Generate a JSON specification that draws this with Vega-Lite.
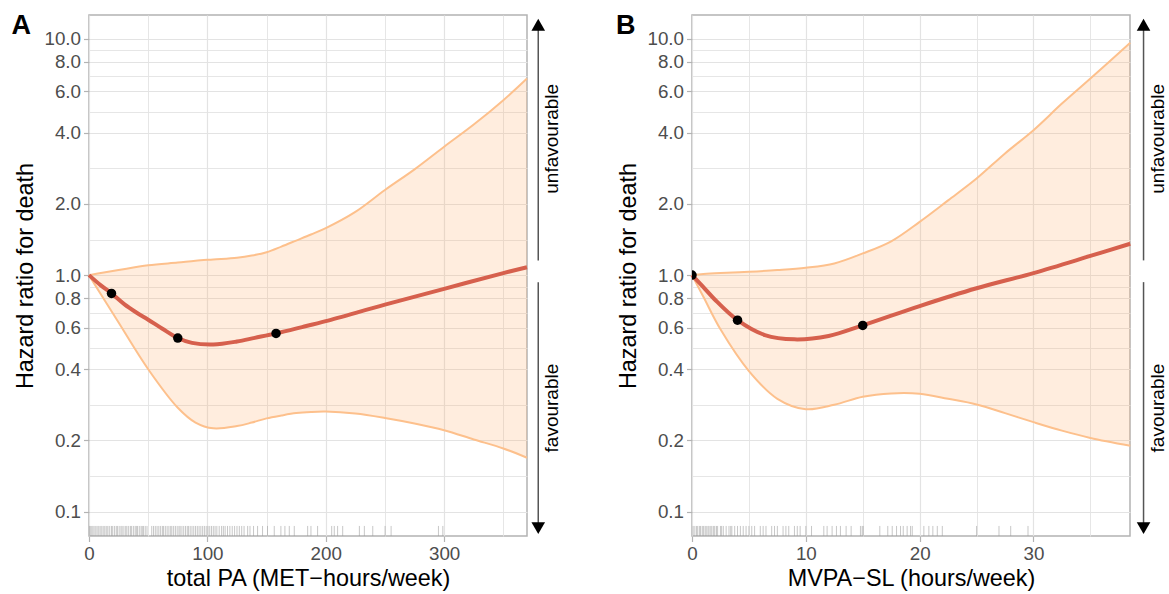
{
  "$schema": "https://vega.github.io/schema/vega-lite/v6.json",
  "background": "white",
  "padding": {"left": 10, "top": 11, "right": 5, "bottom": 5},
  "config": {
    "font": "Liberation Sans",
    "view": {"stroke": "#B3B3B3", "strokeWidth": 1.5},
    "axis": {
      "domain": false,
      "gridColor": "#E3E3E3",
      "tickColor": "#B3B3B3",
      "tickSize": 5.5,
      "tickWidth": 1.2,
      "labelColor": "#4D4D4D",
      "labelFontSize": 18.8,
      "labelFont": "Liberation Sans",
      "titleFont": "Liberation Sans",
      "titleFontSize": 23.4,
      "titleFontWeight": "normal",
      "titleColor": "black",
      "labelOverlap": false,
      "labelFlush": false
    }
  },
  "datasets": {
    "ciA": [
      {"x": 0, "lo": 1.0, "hi": 1.0},
      {"x": 10, "lo": 0.83, "hi": 1.02},
      {"x": 25, "lo": 0.63, "hi": 1.05},
      {"x": 50, "lo": 0.40, "hi": 1.10},
      {"x": 75, "lo": 0.275, "hi": 1.13},
      {"x": 90, "lo": 0.238, "hi": 1.15},
      {"x": 105, "lo": 0.225, "hi": 1.165},
      {"x": 125, "lo": 0.23, "hi": 1.185},
      {"x": 137.5, "lo": 0.238, "hi": 1.21},
      {"x": 150, "lo": 0.248, "hi": 1.25},
      {"x": 162.5, "lo": 0.255, "hi": 1.32},
      {"x": 175, "lo": 0.261, "hi": 1.40},
      {"x": 187.5, "lo": 0.264, "hi": 1.485},
      {"x": 200, "lo": 0.265, "hi": 1.58},
      {"x": 225, "lo": 0.26, "hi": 1.85},
      {"x": 250, "lo": 0.249, "hi": 2.29},
      {"x": 275, "lo": 0.236, "hi": 2.80},
      {"x": 300, "lo": 0.221, "hi": 3.49},
      {"x": 325, "lo": 0.202, "hi": 4.33},
      {"x": 350, "lo": 0.185, "hi": 5.49},
      {"x": 370, "lo": 0.169, "hi": 6.78}
    ],
    "hrA": [
      {"x": 0, "hr": 1.0},
      {"x": 10, "hr": 0.905},
      {"x": 19, "hr": 0.837},
      {"x": 30, "hr": 0.752},
      {"x": 40, "hr": 0.695},
      {"x": 50, "hr": 0.648},
      {"x": 62, "hr": 0.593},
      {"x": 75, "hr": 0.542},
      {"x": 87, "hr": 0.517},
      {"x": 105, "hr": 0.509},
      {"x": 125, "hr": 0.524},
      {"x": 140, "hr": 0.543},
      {"x": 158, "hr": 0.567},
      {"x": 180, "hr": 0.603},
      {"x": 200, "hr": 0.639},
      {"x": 250, "hr": 0.75},
      {"x": 300, "hr": 0.875},
      {"x": 350, "hr": 1.02},
      {"x": 370, "hr": 1.08}
    ],
    "dotsA": [
      {"x": 19, "hr": 0.837},
      {"x": 75, "hr": 0.542},
      {"x": 158, "hr": 0.567}
    ],
    "rugA": [
      {"x": 0.5}, {"x": 1.5}, {"x": 2.5}, {"x": 3.5}, {"x": 5}, {"x": 6}, {"x": 7.5}, {"x": 8.5}, {"x": 10}, {"x": 11},
      {"x": 12.5}, {"x": 13.5}, {"x": 15}, {"x": 16}, {"x": 17.5}, {"x": 19}, {"x": 20}, {"x": 21.5}, {"x": 23}, {"x": 24},
      {"x": 25.5}, {"x": 27}, {"x": 28}, {"x": 29.5}, {"x": 31}, {"x": 32}, {"x": 33.5}, {"x": 35}, {"x": 36}, {"x": 37.5},
      {"x": 39}, {"x": 40}, {"x": 41}, {"x": 42.5}, {"x": 44}, {"x": 45}, {"x": 46}, {"x": 47.5}, {"x": 49}, {"x": 53},
      {"x": 54.5}, {"x": 56}, {"x": 57.5}, {"x": 59}, {"x": 60.5}, {"x": 62}, {"x": 63}, {"x": 64.5}, {"x": 66}, {"x": 67.5},
      {"x": 69}, {"x": 70}, {"x": 71.5}, {"x": 73}, {"x": 74.5}, {"x": 76}, {"x": 77}, {"x": 78.5}, {"x": 80}, {"x": 81.5},
      {"x": 83}, {"x": 84}, {"x": 85.5}, {"x": 87}, {"x": 88.5}, {"x": 90}, {"x": 91.5}, {"x": 93}, {"x": 94.5}, {"x": 96},
      {"x": 97.5}, {"x": 99}, {"x": 100.5}, {"x": 102}, {"x": 103.5}, {"x": 105}, {"x": 106.5}, {"x": 108}, {"x": 110}, {"x": 112},
      {"x": 113.5}, {"x": 115}, {"x": 117}, {"x": 119}, {"x": 121}, {"x": 123}, {"x": 125}, {"x": 127}, {"x": 129}, {"x": 131},
      {"x": 134}, {"x": 136}, {"x": 139}, {"x": 142.4}, {"x": 146.6}, {"x": 150.8}, {"x": 156.5}, {"x": 162.1}, {"x": 165.5}, {"x": 169.2},
      {"x": 173.4}, {"x": 184.7}, {"x": 187.5}, {"x": 193.1}, {"x": 205}, {"x": 207.2}, {"x": 210}, {"x": 214.3}, {"x": 228.4}, {"x": 232.6},
      {"x": 239.7}, {"x": 250.1}, {"x": 255.2}, {"x": 295.2}, {"x": 298.9}
    ],
    "arrA": [
      {"x": 379.5, "y": 1.154, "y2": 11.3},
      {"x": 379.5, "y": 0.934, "y2": 0.087}
    ],
    "headA": [
      {"x": 379.5, "y": 11.44, "dir": "up"},
      {"x": 379.5, "y": 0.0852, "dir": "down"}
    ],
    "txtA": [
      {"x": 391.3, "y": 3.77, "t": "unfavourable"},
      {"x": 391.3, "y": 0.274, "t": "favourable"}
    ],
    "tagA": [
      {"x": -65.4, "y": 10.47, "t": "A"}
    ],
    "ciB": [
      {"x": 0, "lo": 1.0, "hi": 1.0},
      {"x": 1, "lo": 0.81, "hi": 1.01},
      {"x": 2.5, "lo": 0.59, "hi": 1.02},
      {"x": 5, "lo": 0.393, "hi": 1.033},
      {"x": 7.5, "lo": 0.30, "hi": 1.05},
      {"x": 10, "lo": 0.271, "hi": 1.074},
      {"x": 12.5, "lo": 0.283, "hi": 1.12},
      {"x": 15, "lo": 0.306, "hi": 1.235},
      {"x": 17.5, "lo": 0.316, "hi": 1.39},
      {"x": 20, "lo": 0.315, "hi": 1.68},
      {"x": 22.5, "lo": 0.30, "hi": 2.07},
      {"x": 25, "lo": 0.284, "hi": 2.56},
      {"x": 27.5, "lo": 0.261, "hi": 3.27},
      {"x": 30, "lo": 0.239, "hi": 4.10},
      {"x": 32.5, "lo": 0.22, "hi": 5.31},
      {"x": 35, "lo": 0.205, "hi": 6.78},
      {"x": 38.5, "lo": 0.19, "hi": 9.6}
    ],
    "hrB": [
      {"x": 0, "hr": 1.0},
      {"x": 1, "hr": 0.89},
      {"x": 2, "hr": 0.789},
      {"x": 4, "hr": 0.645},
      {"x": 6.4, "hr": 0.558},
      {"x": 9, "hr": 0.535},
      {"x": 12, "hr": 0.553},
      {"x": 15, "hr": 0.613},
      {"x": 20, "hr": 0.74},
      {"x": 25, "hr": 0.88},
      {"x": 30, "hr": 1.02},
      {"x": 35, "hr": 1.205},
      {"x": 38.5, "hr": 1.357}
    ],
    "dotsB": [
      {"x": 0, "hr": 1.0},
      {"x": 4, "hr": 0.645},
      {"x": 15, "hr": 0.613}
    ],
    "rugB": [
      {"x": 0.1}, {"x": 0.25}, {"x": 0.4}, {"x": 0.5}, {"x": 0.65}, {"x": 0.75}, {"x": 0.9}, {"x": 1}, {"x": 1.15}, {"x": 1.25},
      {"x": 1.4}, {"x": 1.5}, {"x": 1.65}, {"x": 1.75}, {"x": 1.9}, {"x": 2}, {"x": 2.15}, {"x": 2.25}, {"x": 2.5}, {"x": 2.6},
      {"x": 2.75}, {"x": 3}, {"x": 3.25}, {"x": 3.4}, {"x": 3.5}, {"x": 3.75}, {"x": 4}, {"x": 4.25}, {"x": 4.5}, {"x": 4.75},
      {"x": 5}, {"x": 5.25}, {"x": 5.5}, {"x": 6}, {"x": 6.25}, {"x": 6.5}, {"x": 7}, {"x": 7.25}, {"x": 7.5}, {"x": 8},
      {"x": 8.25}, {"x": 8.5}, {"x": 9}, {"x": 9.25}, {"x": 9.5}, {"x": 10}, {"x": 10.5}, {"x": 11.58}, {"x": 11.87}, {"x": 12.31},
      {"x": 12.69}, {"x": 13.04}, {"x": 13.54}, {"x": 13.98}, {"x": 14.8}, {"x": 14.95}, {"x": 15.04}, {"x": 16.5}, {"x": 17.2}, {"x": 17.59},
      {"x": 17.97}, {"x": 18.32}, {"x": 18.56}, {"x": 18.9}, {"x": 19.2}, {"x": 19.35}, {"x": 20.37}, {"x": 20.81}, {"x": 21.16}, {"x": 21.55},
      {"x": 21.99}, {"x": 25.0}, {"x": 26.97}, {"x": 28.0}, {"x": 29.52}
    ],
    "arrB": [
      {"x": 39.67, "y": 1.154, "y2": 11.3},
      {"x": 39.67, "y": 0.934, "y2": 0.087}
    ],
    "headB": [
      {"x": 39.67, "y": 11.44, "dir": "up"},
      {"x": 39.67, "y": 0.0852, "dir": "down"}
    ],
    "txtB": [
      {"x": 40.9, "y": 3.77, "t": "unfavourable"},
      {"x": 40.9, "y": 0.274, "t": "favourable"}
    ],
    "tagB": [
      {"x": -6.68, "y": 10.47, "t": "B"}
    ]
  },
  "hconcat": [
    {
      "width": 438,
      "height": 521,
      "layer": [
        {
          "data": {"name": "ciA"},
          "mark": {"type": "area", "interpolate": "catmull-rom", "color": "#FDAE6B", "opacity": 0.22},
          "encoding": {
            "x": {"field": "x", "type": "quantitative", "scale": {"domain": [0, 370], "nice": false, "zero": false},
              "axis": {"title": "total PA (MET−hours/week)", "values": [0, 50, 100, 150, 200, 250, 300, 350],
                "labelExpr": "datum.value % 100 == 0 ? datum.label : ''",
                "gridWidth": {"condition": {"test": "datum.value % 100 == 0", "value": 1.2}, "value": 0.9},
                "tickOpacity": {"condition": {"test": "datum.value % 100 == 0", "value": 1}, "value": 0},
                "labelPadding": 3, "titlePadding": 4}},
            "y": {"field": "lo", "type": "quantitative", "scale": {"type": "log", "domain": [0.0789, 12.58], "nice": false},
              "axis": {"title": "Hazard ratio for death",
                "values": [0.1, 0.1414, 0.2, 0.2828, 0.4, 0.4899, 0.6, 0.6928, 0.8, 0.8944, 1, 1.4142, 2, 2.8284, 4, 4.899, 6, 6.9282, 8, 8.9443, 10],
                "labelExpr": "indexof([0.1,0.2,0.4,0.6,0.8,1,2,4,6,8,10], datum.value) >= 0 ? format(datum.value, '.1f') : ''",
                "gridWidth": {"condition": {"test": "indexof([0.1,0.2,0.4,0.6,0.8,1,2,4,6,8,10], datum.value) >= 0", "value": 1.2}, "value": 0.9},
                "tickOpacity": {"condition": {"test": "indexof([0.1,0.2,0.4,0.6,0.8,1,2,4,6,8,10], datum.value) >= 0", "value": 1}, "value": 0},
                "labelPadding": 3, "titlePadding": 6.5}},
            "y2": {"field": "hi"}
          }
        },
        {
          "data": {"name": "ciA"},
          "mark": {"type": "line", "interpolate": "catmull-rom", "color": "#FDC08C", "strokeWidth": 2},
          "encoding": {"x": {"field": "x", "type": "quantitative"}, "y": {"field": "lo", "type": "quantitative"}}
        },
        {
          "data": {"name": "ciA"},
          "mark": {"type": "line", "interpolate": "catmull-rom", "color": "#FDC08C", "strokeWidth": 2},
          "encoding": {"x": {"field": "x", "type": "quantitative"}, "y": {"field": "hi", "type": "quantitative"}}
        },
        {
          "mark": {"type": "rule", "color": "#A6A6A6", "strokeWidth": 4, "strokeDash": [18, 18.4]},
          "encoding": {"y": {"datum": 1}}
        },
        {
          "data": {"name": "hrA"},
          "mark": {"type": "line", "interpolate": "catmull-rom", "color": "#D6604D", "strokeWidth": 4},
          "encoding": {"x": {"field": "x", "type": "quantitative"}, "y": {"field": "hr", "type": "quantitative"}}
        },
        {
          "data": {"name": "dotsA"},
          "mark": {"type": "circle", "color": "black", "opacity": 1, "size": 90, "clip": true},
          "encoding": {"x": {"field": "x", "type": "quantitative"}, "y": {"field": "hr", "type": "quantitative"}}
        },
        {
          "data": {"name": "rugA"},
          "mark": {"type": "rule", "color": "#999999", "opacity": 0.55, "strokeWidth": 1},
          "encoding": {"x": {"field": "x", "type": "quantitative"}, "y": {"datum": 0.0789}, "y2": {"datum": 0.087}}
        },
        {
          "data": {"name": "arrA"},
          "mark": {"type": "rule", "color": "#555555", "strokeWidth": 1.5},
          "encoding": {"x": {"field": "x", "type": "quantitative"}, "y": {"field": "y", "type": "quantitative"}, "y2": {"field": "y2"}}
        },
        {
          "data": {"name": "headA"},
          "mark": {"type": "point", "filled": true, "color": "black", "opacity": 1, "size": 185},
          "encoding": {"x": {"field": "x", "type": "quantitative"}, "y": {"field": "y", "type": "quantitative"},
            "shape": {"field": "dir", "type": "nominal", "scale": {"domain": ["up", "down"], "range": ["triangle-up", "triangle-down"]}, "legend": null}}
        },
        {
          "data": {"name": "txtA"},
          "mark": {"type": "text", "angle": 270, "fontSize": 19, "font": "Liberation Sans", "color": "black", "align": "center", "baseline": "middle"},
          "encoding": {"x": {"field": "x", "type": "quantitative"}, "y": {"field": "y", "type": "quantitative"}, "text": {"field": "t"}}
        },
        {
          "data": {"name": "tagA"},
          "mark": {"type": "text", "fontSize": 27, "fontWeight": "bold", "font": "Liberation Sans", "color": "black", "align": "left", "baseline": "alphabetic"},
          "encoding": {"x": {"field": "x", "type": "quantitative"}, "y": {"field": "y", "type": "quantitative"}, "text": {"field": "t"}}
        }
      ]
    },
    {
      "width": 438,
      "height": 521,
      "layer": [
        {
          "data": {"name": "ciB"},
          "mark": {"type": "area", "interpolate": "catmull-rom", "color": "#FDAE6B", "opacity": 0.22},
          "encoding": {
            "x": {"field": "x", "type": "quantitative", "scale": {"domain": [0, 38.48], "nice": false, "zero": false},
              "axis": {"title": "MVPA−SL (hours/week)", "values": [0, 5, 10, 15, 20, 25, 30, 35],
                "labelExpr": "datum.value % 10 == 0 ? datum.label : ''",
                "gridWidth": {"condition": {"test": "datum.value % 10 == 0", "value": 1.2}, "value": 0.9},
                "tickOpacity": {"condition": {"test": "datum.value % 10 == 0", "value": 1}, "value": 0},
                "labelPadding": 3, "titlePadding": 4}},
            "y": {"field": "lo", "type": "quantitative", "scale": {"type": "log", "domain": [0.0789, 12.58], "nice": false},
              "axis": {"title": "Hazard ratio for death",
                "values": [0.1, 0.1414, 0.2, 0.2828, 0.4, 0.4899, 0.6, 0.6928, 0.8, 0.8944, 1, 1.4142, 2, 2.8284, 4, 4.899, 6, 6.9282, 8, 8.9443, 10],
                "labelExpr": "indexof([0.1,0.2,0.4,0.6,0.8,1,2,4,6,8,10], datum.value) >= 0 ? format(datum.value, '.1f') : ''",
                "gridWidth": {"condition": {"test": "indexof([0.1,0.2,0.4,0.6,0.8,1,2,4,6,8,10], datum.value) >= 0", "value": 1.2}, "value": 0.9},
                "tickOpacity": {"condition": {"test": "indexof([0.1,0.2,0.4,0.6,0.8,1,2,4,6,8,10], datum.value) >= 0", "value": 1}, "value": 0},
                "labelPadding": 3, "titlePadding": 6.5}},
            "y2": {"field": "hi"}
          }
        },
        {
          "data": {"name": "ciB"},
          "mark": {"type": "line", "interpolate": "catmull-rom", "color": "#FDC08C", "strokeWidth": 2},
          "encoding": {"x": {"field": "x", "type": "quantitative"}, "y": {"field": "lo", "type": "quantitative"}}
        },
        {
          "data": {"name": "ciB"},
          "mark": {"type": "line", "interpolate": "catmull-rom", "color": "#FDC08C", "strokeWidth": 2},
          "encoding": {"x": {"field": "x", "type": "quantitative"}, "y": {"field": "hi", "type": "quantitative"}}
        },
        {
          "mark": {"type": "rule", "color": "#A6A6A6", "strokeWidth": 4, "strokeDash": [18, 18.4]},
          "encoding": {"y": {"datum": 1}}
        },
        {
          "data": {"name": "hrB"},
          "mark": {"type": "line", "interpolate": "catmull-rom", "color": "#D6604D", "strokeWidth": 4},
          "encoding": {"x": {"field": "x", "type": "quantitative"}, "y": {"field": "hr", "type": "quantitative"}}
        },
        {
          "data": {"name": "dotsB"},
          "mark": {"type": "circle", "color": "black", "opacity": 1, "size": 90, "clip": true},
          "encoding": {"x": {"field": "x", "type": "quantitative"}, "y": {"field": "hr", "type": "quantitative"}}
        },
        {
          "data": {"name": "rugB"},
          "mark": {"type": "rule", "color": "#999999", "opacity": 0.55, "strokeWidth": 1},
          "encoding": {"x": {"field": "x", "type": "quantitative"}, "y": {"datum": 0.0789}, "y2": {"datum": 0.087}}
        },
        {
          "data": {"name": "arrB"},
          "mark": {"type": "rule", "color": "#555555", "strokeWidth": 1.5},
          "encoding": {"x": {"field": "x", "type": "quantitative"}, "y": {"field": "y", "type": "quantitative"}, "y2": {"field": "y2"}}
        },
        {
          "data": {"name": "headB"},
          "mark": {"type": "point", "filled": true, "color": "black", "opacity": 1, "size": 185},
          "encoding": {"x": {"field": "x", "type": "quantitative"}, "y": {"field": "y", "type": "quantitative"},
            "shape": {"field": "dir", "type": "nominal", "scale": {"domain": ["up", "down"], "range": ["triangle-up", "triangle-down"]}, "legend": null}}
        },
        {
          "data": {"name": "txtB"},
          "mark": {"type": "text", "angle": 270, "fontSize": 19, "font": "Liberation Sans", "color": "black", "align": "center", "baseline": "middle"},
          "encoding": {"x": {"field": "x", "type": "quantitative"}, "y": {"field": "y", "type": "quantitative"}, "text": {"field": "t"}}
        },
        {
          "data": {"name": "tagB"},
          "mark": {"type": "text", "fontSize": 27, "fontWeight": "bold", "font": "Liberation Sans", "color": "black", "align": "left", "baseline": "alphabetic"},
          "encoding": {"x": {"field": "x", "type": "quantitative"}, "y": {"field": "y", "type": "quantitative"}, "text": {"field": "t"}}
        }
      ]
    }
  ],
  "spacing": 52
}
